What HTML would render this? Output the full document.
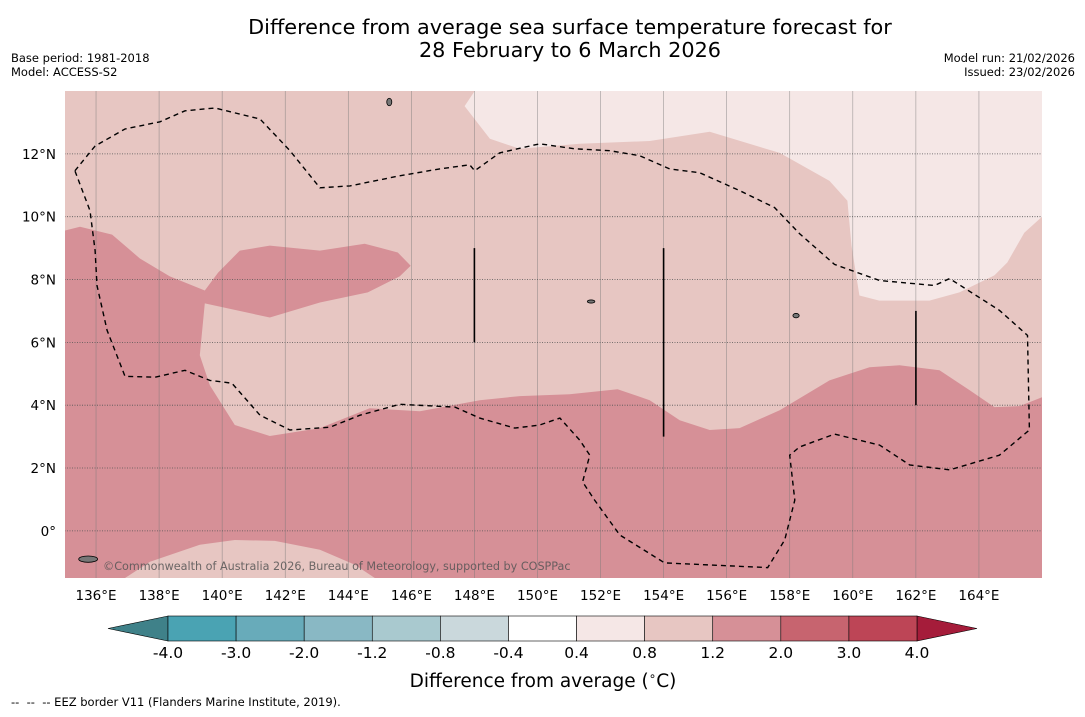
<!DOCTYPE html>
<html><head><meta charset="utf-8"><style>
body{margin:0;background:#fff;font-family:"DejaVu Sans","Liberation Sans",sans-serif}
svg text{font-family:"DejaVu Sans","Liberation Sans",sans-serif}
</style></head><body>
<svg id="chart" width="1085" height="713" viewBox="0 0 1085 713" xmlns="http://www.w3.org/2000/svg">
<rect width="1085" height="713" fill="#fff"/>
<text x="570" y="34" font-size="20.8" text-anchor="middle">Difference from average sea surface temperature forecast for</text>
<text x="570" y="57" font-size="20.8" text-anchor="middle">28 February to 6 March 2026</text>
<text x="11" y="62" font-size="11.5">Base period: 1981-2018</text>
<text x="11" y="76" font-size="11.5">Model: ACCESS-S2</text>
<text x="1075" y="62" font-size="11.5" text-anchor="end">Model run: 21/02/2026</text>
<text x="1075" y="76" font-size="11.5" text-anchor="end">Issued: 23/02/2026</text>
<defs><clipPath id="mapclip"><rect x="65" y="91" width="977" height="487"/></clipPath></defs>
<g id="map" clip-path="url(#mapclip)"></g>
<g id="axes"></g>
<g id="cbar"></g>
<text x="543" y="687" font-size="18.5" text-anchor="middle">Difference from average (<tspan font-size="12" dy="-7">∘</tspan><tspan dy="7">C)</tspan></text>
<text x="11" y="706" font-size="11.5" xml:space="preserve">--  --  -- EEZ border V11 (Flanders Marine Institute, 2019).</text>
</svg>
<script>
const lonTicks=[136,138,140,142,144,146,148,150,152,154,156,158,160,162,164];
const latTicks=[0,2,4,6,8,10,12];
const lonMin=135, lonMax=166, latMin=-1.5, latMax=14;
const cbBounds=[-4.0,-3.0,-2.0,-1.2,-0.8,-0.4,0.4,0.8,1.2,2.0,3.0,4.0];
const cbColors=["#4aa3b3","#68abba","#89b8c4","#a9c9cf","#cad8dc","#ffffff","#f5e7e6","#e7c6c2","#d69097","#c7646f","#bd4556"];
const darkRegion=[[135.02,9.56],[135.49,9.68],[136.51,9.43],[137.39,8.67],[138.34,8.10],[139.45,7.65],[139.87,8.22],[140.56,8.92],[141.51,9.08],[143.10,8.92],[144.52,9.14],[145.57,8.86],[145.98,8.44],[145.63,8.10],[144.62,7.59],[143.10,7.27],[141.51,6.79],[139.45,7.24],[139.29,5.59],[139.61,4.63],[140.40,3.37],[141.51,3.02],[143.10,3.27],[144.68,3.90],[146.27,3.81],[148.17,4.16],[149.44,4.29],[151.02,4.35],[152.54,4.51],[153.56,4.16],[154.51,3.52],[155.46,3.21],[156.41,3.27],[157.68,3.84],[159.26,4.79],[160.53,5.21],[161.48,5.27],[162.75,5.11],[163.70,4.48],[164.49,3.94],[165.29,3.97],[166,4.25],[166,-1.5],[144.84,-1.5],[144.21,-1.08],[143.10,-0.60],[141.67,-0.32],[140.40,-0.29],[139.29,-0.44],[137.71,-0.98],[136.92,-1.5],[135,-1.5],[135,9.56]];
const lightRegion=[[148.01,14],[147.69,13.52],[148.49,12.48],[149.44,12.16],[151.34,12.32],[153.56,12.41],[155.46,12.70],[157.68,12.03],[159.26,11.14],[159.83,10.51],[159.96,9.08],[160.21,7.49],[160.84,7.33],[162.43,7.33],[163.38,7.59],[164.49,8.13],[164.90,8.54],[165.44,9.49],[166,10.0],[166,14]];
const eezLine=[[135.33,11.46],[135.97,12.25],[136.92,12.79],[138.03,13.02],[138.82,13.37],[139.77,13.46],[141.20,13.11],[142.15,12.10],[143.10,10.92],[144.05,10.98],[145.63,11.30],[146.90,11.52],[147.85,11.65],[148.01,11.46],[148.80,12.03],[150.07,12.32],[151.18,12.16],[152.29,12.10],[153.24,11.94],[154.19,11.52],[155.14,11.40],[156.41,10.83],[157.52,10.29],[158.31,9.46],[159.42,8.48],[160.85,7.97],[162.59,7.81],[163.07,8.03],[164.65,7.02],[165.54,6.22],[165.60,3.21],[164.65,2.41],[163.07,1.94],[161.80,2.10],[160.85,2.73],[159.42,3.08],[158.31,2.67],[158.00,2.41],[158.16,0.98],[157.84,-0.29],[157.30,-1.17],[154.03,-1.02],[152.61,-0.13],[151.81,0.98],[151.43,1.56],[151.66,2.41],[151.34,2.89],[150.71,3.59],[150.07,3.37],[149.28,3.27],[148.17,3.59],[147.38,3.94],[145.63,4.03],[144.37,3.68],[143.42,3.30],[142.15,3.21],[141.20,3.68],[140.31,4.70],[139.61,4.79],[138.82,5.11],[137.87,4.89],[136.92,4.92],[136.35,6.38],[136.03,7.81],[135.97,8.92],[135.81,10.19],[135.33,11.46]];
const eezSegments=[[[148,9],[148,6]],[[154,9],[154,3]],[[162,7],[162,4]]];
const islands=[[135.75,-0.9,0.3,0.1],[145.3,13.65,0.08,0.12],[158.2,6.85,0.1,0.07],[151.7,7.3,0.12,0.05]];

const NS="http://www.w3.org/2000/svg";
const X0=64.5, X1=1042, Y0=91, Y1=578;
const xs=lon=>X0+(lon-lonMin)/(lonMax-lonMin)*(X1-X0);
const ys=lat=>Y1-(lat-latMin)/(latMax-latMin)*(Y1-Y0);
function mk(tag,attrs,parent){const e=document.createElementNS(NS,tag);for(const k in attrs)e.setAttribute(k,attrs[k]);parent.appendChild(e);return e;}
const pts=arr=>arr.map(p=>xs(p[0]).toFixed(1)+","+ys(p[1]).toFixed(1)).join(" ");
const map=document.getElementById('map');
let r=mk('rect',{x:65,y:91,width:977,height:487,fill:"#e7c6c2"},map);


let p=mk('polygon',{points:pts(darkRegion),fill:"#d69097"},map);


p=mk('polygon',{points:pts(lightRegion),fill:"#f5e7e6"},map);


lonTicks.forEach(l=>{const g=mk('line',{x1:xs(l),x2:xs(l),y1:Y0,y2:Y1,stroke:"#777","stroke-width":0.6,"stroke-opacity":0.7},map);

});
latTicks.forEach(l=>{const g=mk('line',{x1:X0,x2:X1,y1:ys(l),y2:ys(l),stroke:"#555","stroke-width":0.8,"stroke-dasharray":"1,1.5"},map);

});
islands.forEach(i=>{const e=mk('ellipse',{cx:xs(i[0]),cy:ys(i[1]),rx:i[2]*31.5,ry:i[3]*31.5,fill:"#777",stroke:"#000","stroke-width":0.8},map);

});
let pl=mk('polyline',{points:pts(eezLine),fill:"none",stroke:"#000","stroke-width":1.4,"stroke-dasharray":"5,4"},map);


eezSegments.forEach(s=>{const e=mk('polyline',{points:pts(s),fill:"none",stroke:"#000","stroke-width":1.6},map);

});
let t=mk('text',{x:103,y:570,"font-size":11.2,fill:"#555","fill-opacity":0.85},map);
t.textContent="©Commonwealth of Australia 2026, Bureau of Meteorology, supported by COSPPac";



const axes=document.getElementById('axes');
lonTicks.forEach(l=>{const e=mk('text',{x:xs(l),y:600,"font-size":13.5,"text-anchor":"middle"},axes);e.textContent=l+"°E";

});
latTicks.forEach(l=>{const e=mk('text',{x:56,y:ys(l)+5,"font-size":13.5,"text-anchor":"end"},axes);e.textContent=l===0?"0°":l+"°N";

});

const cb=document.getElementById('cbar');
const cX0=168,cX1=917,cY=616,cH=25,n=cbColors.length,w=(cX1-cX0)/n;
let lt=mk('polygon',{points:`${cX0},${cY} 108,${cY+cH/2} ${cX0},${cY+cH}`,fill:"#3f8189",stroke:"#000","stroke-width":0.6},cb);


let rt=mk('polygon',{points:`${cX1},${cY} 977,${cY+cH/2} ${cX1},${cY+cH}`,fill:"#a51c3a",stroke:"#000","stroke-width":0.6},cb);


cbColors.forEach((c,i)=>{const e=mk('rect',{x:cX0+i*w,y:cY,width:w,height:cH,fill:c,stroke:"#000","stroke-width":0.6},cb);

});
cbBounds.forEach((b,i)=>{const e=mk('text',{x:cX0+i*w,y:658,"font-size":15.5,"text-anchor":"middle"},cb);e.textContent=b.toFixed(1);

});
</script>
</body></html>
